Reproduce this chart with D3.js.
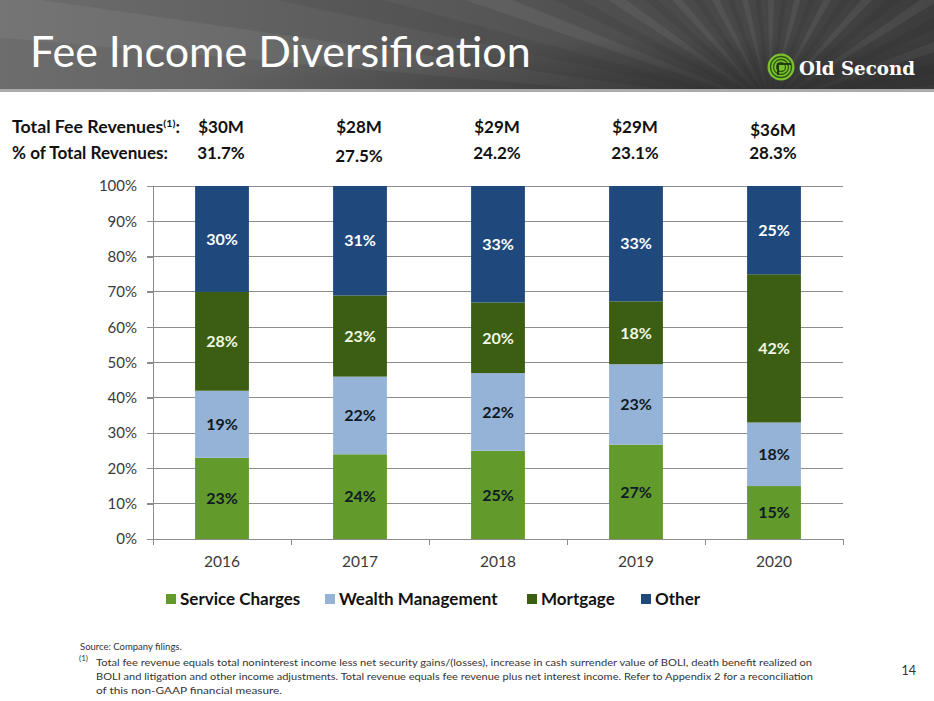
<!DOCTYPE html>
<html>
<head>
<meta charset="utf-8">
<script src="https://cdn.jsdelivr.net/npm/d3@7/dist/d3.min.js"></script>
<style>
  html, body { margin: 0; padding: 0; background: #ffffff; }
  svg { display: block; }
</style>
</head>
<body>
<svg id="chart" width="934" height="701" font-family="Lato, 'Open Sans', sans-serif"></svg>
<script>
// ---------------- DATA ----------------
const years = ["2016", "2017", "2018", "2019", "2020"];
const seriesNames = ["Service Charges", "Wealth Management", "Mortgage", "Other"];
const serviceCharges   = [23, 24, 25, 27, 15];
const wealthManagement = [19, 22, 22, 23, 18];
const mortgage         = [28, 23, 20, 18, 42];
const other            = [30, 31, 33, 33, 25];
const totalFeeRevenues   = ["$30M", "$28M", "$29M", "$29M", "$36M"];
const pctOfTotalRevenues = ["31.7%", "27.5%", "24.2%", "23.1%", "28.3%"];
const yTickValues = [0, 0.1, 0.2, 0.3, 0.4, 0.5, 0.6, 0.7, 0.8, 0.9, 1.0];
const footnoteLines = [
  "Total fee revenue equals total noninterest income less net security gains/(losses), increase in cash surrender value of BOLI, death benefit realized on",
  "BOLI and litigation and other income adjustments. Total revenue equals fee revenue plus net interest income.  Refer to Appendix 2 for a reconciliation",
  "of this non-GAAP financial measure."
];

// ---------------- SETUP ----------------
const svg = d3.select("#chart");
const W = 934, H = 701;
const colors = {
  "Service Charges": "#629a2b",
  "Wealth Management": "#95b3d7",
  "Mortgage": "#3b5e12",
  "Other": "#1f497d"
};
const labelColors = {
  "Service Charges": "#0e1a24",
  "Wealth Management": "#0e1a24",
  "Mortgage": "#f2f7e4",
  "Other": "#ffffff"
};

// ---------------- HEADER ----------------
const defs = svg.append("defs");
const hg = defs.append("linearGradient").attr("id", "hdr").attr("x1", "0").attr("x2", "1").attr("y1", "0").attr("y2", "0");
hg.append("stop").attr("offset", "0").attr("stop-color", "#6d6d6d");
hg.append("stop").attr("offset", "0.5").attr("stop-color", "#575757");
hg.append("stop").attr("offset", "1").attr("stop-color", "#3c3c3c");
defs.append("clipPath").attr("id", "hdrClip").append("rect").attr("x", 0).attr("y", 0).attr("width", W).attr("height", 91);

svg.append("rect").attr("x", 0).attr("y", 0).attr("width", W).attr("height", 91).attr("fill", "url(#hdr)");
const rays = svg.append("g").attr("clip-path", "url(#hdrClip)");
const cx = 770, cy = 105;
const rayAngles = d3.range(-175, -5, 7);
rayAngles.forEach((a, i) => {
  const a1 = a * Math.PI / 180, a2 = (a + 3.2) * Math.PI / 180;
  const R = 900;
  rays.append("path")
    .attr("d", `M${cx},${cy} L${cx + R * Math.cos(a1)},${cy + R * Math.sin(a1)} L${cx + R * Math.cos(a2)},${cy + R * Math.sin(a2)} Z`)
    .attr("fill", i % 2 ? "#000000" : "#ffffff")
    .attr("opacity", 0.06);
});
const dark = defs.append("radialGradient").attr("id", "glow").attr("cx", "0.82").attr("cy", "1").attr("r", "0.6");
dark.append("stop").attr("offset", "0").attr("stop-color", "#2a2a2a").attr("stop-opacity", 0.7);
dark.append("stop").attr("offset", "1").attr("stop-color", "#2a2a2a").attr("stop-opacity", 0);
svg.append("rect").attr("x", 0).attr("y", 0).attr("width", W).attr("height", 91).attr("fill", "url(#glow)");
svg.append("rect").attr("x", 0).attr("y", 89).attr("width", W).attr("height", 3).attr("fill", "#ababab");

svg.append("text").attr("x", 30).attr("y", 67)
  .attr("fill", "#ffffff").attr("font-size", 43)
  .text("Fee Income Diversification");

// logo
const logo = svg.append("g").attr("transform", "translate(781,67)");
logo.append("circle").attr("r", 13.5).attr("fill", "#7cbf2f");
[10.5, 7.5, 4.5].forEach(r => logo.append("circle").attr("r", r).attr("fill", "none").attr("stroke", "#2f5b10").attr("stroke-width", 1.3));
logo.append("path").attr("d", "M-3,8 L-3,-3 L10,-3").attr("fill", "none").attr("stroke", "#1e3a08").attr("stroke-width", 2);
svg.append("text").attr("x", 799).attr("y", 75)
  .attr("fill", "#ffffff").attr("font-size", 18).attr("font-weight", "bold")
  .attr("font-family", "'DejaVu Serif', 'Liberation Serif', serif")
  .attr("textLength", 116).attr("lengthAdjust", "spacingAndGlyphs")
  .text("Old Second");

// ---------------- CHART ----------------
const plot = { left: 153, right: 843, top: 186, bottom: 539 };
const x = d3.scaleBand().domain(years).range([plot.left, plot.right]).paddingInner(0.61).paddingOuter(0.305);
const y = d3.scaleLinear().domain([0, 1]).range([plot.bottom, plot.top]);

const rows = years.map((yr, i) => ({
  year: yr,
  "Service Charges": serviceCharges[i],
  "Wealth Management": wealthManagement[i],
  "Mortgage": mortgage[i],
  "Other": other[i]
}));
const stacked = d3.stack().keys(seriesNames).offset(d3.stackOffsetExpand)(rows);

// gridlines
svg.append("g").selectAll("line").data(yTickValues).join("line")
  .attr("x1", plot.left - 6).attr("x2", plot.right)
  .attr("y1", d => y(d)).attr("y2", d => y(d))
  .attr("stroke", "#8c8c8c").attr("stroke-width", 1).attr("shape-rendering", "crispEdges");

// y axis
const yAxis = svg.append("g").attr("transform", `translate(${plot.left},0)`)
  .call(d3.axisLeft(y).tickValues(yTickValues).tickFormat(d3.format(".0%")).tickSize(6).tickPadding(10));
yAxis.select(".domain").attr("stroke", "#8c8c8c").attr("shape-rendering", "crispEdges");
yAxis.selectAll(".tick line").attr("stroke", "#8c8c8c").attr("shape-rendering", "crispEdges");
yAxis.selectAll(".tick text").attr("font-size", 15).attr("fill", "#3a3a3a").attr("font-family", "Lato, sans-serif");

// bars
const layers = svg.append("g").selectAll("g").data(stacked).join("g")
  .attr("fill", d => colors[d.key]);
layers.selectAll("rect").data(d => d).join("rect")
  .attr("x", d => x(d.data.year))
  .attr("width", x.bandwidth())
  .attr("y", d => y(d[1]))
  .attr("height", d => y(d[0]) - y(d[1]));

// x axis
const xAxisG = svg.append("g").attr("transform", `translate(0,${plot.bottom})`);
xAxisG.append("line").attr("x1", plot.left).attr("x2", plot.right).attr("y1", 0).attr("y2", 0)
  .attr("stroke", "#8c8c8c").attr("shape-rendering", "crispEdges");
const boundaries = years.map(yr => x(yr) - x.step() * x.paddingInner() / 2).concat([plot.right]);
xAxisG.selectAll("line.b").data(boundaries).join("line").attr("class", "b")
  .attr("x1", d => Math.round(d) + 0.5).attr("x2", d => Math.round(d) + 0.5).attr("y1", 0).attr("y2", 6)
  .attr("stroke", "#8c8c8c");
xAxisG.selectAll("text").data(years).join("text")
  .attr("x", d => x(d) + x.bandwidth() / 2).attr("y", 28)
  .attr("text-anchor", "middle").attr("font-size", 15.5).attr("fill", "#3a3a3a")
  .text(d => d);

// segment labels
layers.each(function (layer) {
  d3.select(this).selectAll("text").data(layer).join("text")
    .attr("x", d => x(d.data.year) + x.bandwidth() / 2)
    .attr("y", d => (y(d[0]) + y(d[1])) / 2)
    .attr("dy", "0.36em")
    .attr("text-anchor", "middle")
    .attr("font-size", 16).attr("font-weight", "bold")
    .attr("fill", labelColors[layer.key])
    .text(d => d.data[layer.key] + "%");
});

// ---------------- TOP ROWS ----------------
const top1 = svg.append("text").attr("x", 12).attr("y", 133).attr("font-size", 16.5).attr("font-weight", "bold").attr("fill", "#111")
  .attr("textLength", 168).attr("lengthAdjust", "spacingAndGlyphs");
top1.append("tspan").text("Total Fee Revenues");
top1.append("tspan").attr("font-size", 10).attr("dy", -6).text("(1)");
top1.append("tspan").attr("dy", 6).text(":");
svg.append("text").attr("x", 12).attr("y", 159).attr("font-size", 16.5).attr("font-weight", "bold").attr("fill", "#111")
  .attr("textLength", 156).attr("lengthAdjust", "spacingAndGlyphs")
  .text("% of Total Revenues:");
const rowOffsets1 = [0, 0, 0, 0, 3];
const rowOffsets2 = [0, 3, 0, 0, 0];
svg.append("g").selectAll("text").data(totalFeeRevenues).join("text")
  .attr("x", (d, i) => x(years[i]) + x.bandwidth() / 2 - 1)
  .attr("y", (d, i) => 133 + rowOffsets1[i])
  .attr("text-anchor", "middle").attr("font-size", 17).attr("font-weight", "bold").attr("fill", "#111")
  .text(d => d);
svg.append("g").selectAll("text").data(pctOfTotalRevenues).join("text")
  .attr("x", (d, i) => x(years[i]) + x.bandwidth() / 2 - 1)
  .attr("y", (d, i) => 159 + rowOffsets2[i])
  .attr("text-anchor", "middle").attr("font-size", 17).attr("font-weight", "bold").attr("fill", "#111")
  .text(d => d);

// ---------------- LEGEND ----------------
const legendX = [166, 325, 527, 641];
const legend = svg.append("g").selectAll("g").data(seriesNames).join("g")
  .attr("transform", (d, i) => `translate(${legendX[i]},594)`);
legend.append("rect").attr("width", 10).attr("height", 10).attr("fill", d => colors[d]);
legend.append("text").attr("x", 14).attr("y", 5).attr("dy", "0.36em")
  .attr("font-size", 17).attr("font-weight", "bold").attr("fill", "#111")
  .text(d => d);

// ---------------- FOOTER ----------------
svg.append("text").attr("x", 80).attr("y", 650).attr("font-size", 9.5).attr("fill", "#333")
  .text("Source: Company filings.");
svg.append("text").attr("x", 79).attr("y", 661).attr("font-size", 8).attr("fill", "#333").text("(1)");
const fnWidths = [716, 717, 186];
svg.append("g").selectAll("text").data(footnoteLines).join("text")
  .attr("x", 96).attr("y", (d, i) => 666 + i * 14)
  .attr("font-size", 9.5).attr("fill", "#333")
  .attr("textLength", (d, i) => fnWidths[i]).attr("lengthAdjust", "spacingAndGlyphs")
  .text(d => d);
svg.append("text").attr("x", 916).attr("y", 675).attr("text-anchor", "end").attr("font-size", 12.5).attr("fill", "#333").text("14");
</script>
</body>
</html>
